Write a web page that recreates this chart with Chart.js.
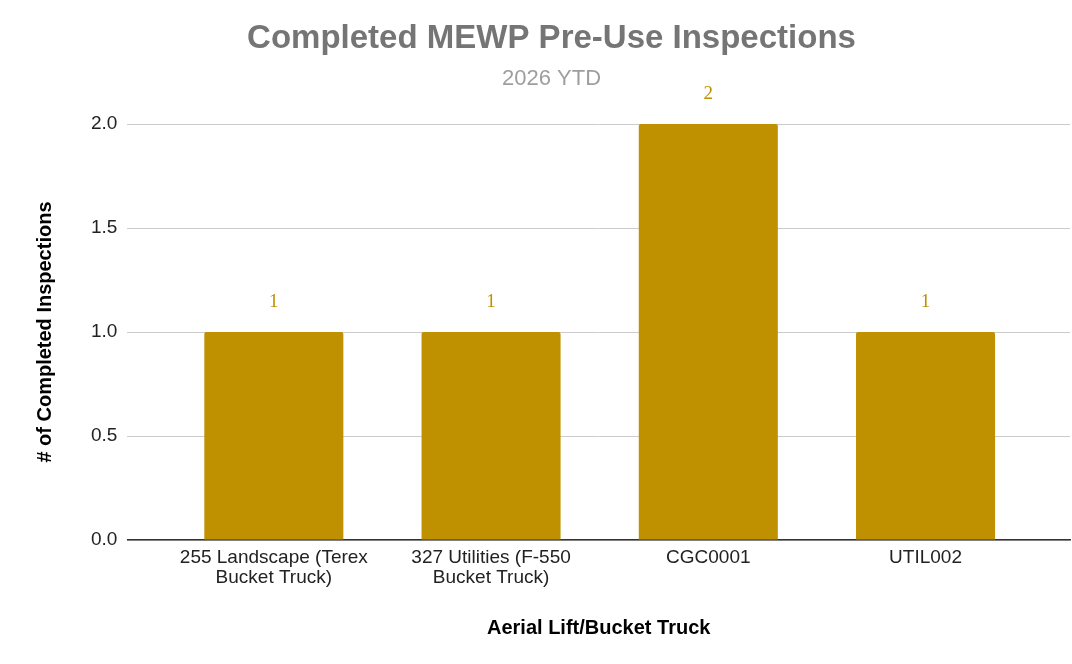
<!DOCTYPE html>
<html>
<head>
<meta charset="utf-8">
<script src="https://cdn.jsdelivr.net/npm/chart.js@4/dist/chart.umd.min.js"></script>
<style>
html,body{margin:0;padding:0;background:#fff;}
#wrap{width:1072px;height:664px;position:relative;}
</style>
</head>
<body>
<div id="wrap"><canvas id="c"></canvas></div>
<script>
const categories = [
  ["255 Landscape (Terex", "Bucket Truck)"],
  ["327 Utilities (F-550", "Bucket Truck)"],
  ["CGC0001"],
  ["UTIL002"]
];
const inspections = [1, 1, 2, 1];
const yTicks = [0, 0.5, 1, 1.5, 2];

const barColor = '#bf9000';
const FONT = '"Liberation Sans", Arial, sans-serif';

const labelPlugin = {
  id: 'valueLabels',
  afterDatasetsDraw(chart) {
    const ctx = chart.ctx;
    const meta = chart.getDatasetMeta(0);
    ctx.save();
    ctx.font = '19px "Liberation Serif", "Times New Roman", serif';
    ctx.fillStyle = '#bf9000';
    ctx.textAlign = 'center';
    ctx.textBaseline = 'middle';
    meta.data.forEach((el, i) => {
      ctx.fillText(String(inspections[i]), el.x, el.y - 30);
    });
    ctx.restore();
  }
};

new Chart(document.getElementById('c'), {
  type: 'bar',
  data: {
    datasets: [{
      data: inspections.map((v, i) => ({x: i, y: v})),
      backgroundColor: barColor,
      borderRadius: 2,
      borderSkipped: 'bottom',
      barPercentage: 0.64,
      categoryPercentage: 1.0
    }]
  },
  options: {
    responsive: true,
    maintainAspectRatio: false,
    animation: false,
    layout: {padding: {left: 33, right: 2, top: 0, bottom: 24}},
    plugins: {
      legend: {display: false},
      tooltip: {enabled: false},
      title: {
        display: true,
        text: 'Completed MEWP Pre-Use Inspections',
        color: '#757575',
        font: {family: FONT, size: 33, weight: 'bold'},
        padding: {top: 19, bottom: 4}
      },
      subtitle: {
        display: true,
        text: '2026 YTD',
        color: '#9e9e9e',
        font: {family: FONT, size: 22},
        padding: {top: 3, bottom: 32}
      }
    },
    scales: {
      x: {
        type: 'linear',
        min: -0.674,
        max: 3.665,
        offset: false,
        afterBuildTicks(scale) {
          scale.ticks = categories.map((c, i) => ({value: i}));
        },
        ticks: {
          autoSkip: false,
          maxRotation: 0,
          color: '#222',
          font: {family: FONT, size: 19, lineHeight: 1.05},
          padding: 8,
          callback: (v) => categories[v] || ''
        },
        grid: {display: false, drawTicks: false},
        border: {display: true, color: '#333', width: 1.5},
        title: {
          display: true,
          text: 'Aerial Lift/Bucket Truck',
          color: '#000',
          font: {family: FONT, size: 20, weight: 'bold'},
          padding: {top: 20, bottom: 0}
        }
      },
      y: {
        min: 0,
        max: 2,
        afterBuildTicks(scale) {
          scale.ticks = yTicks.map(v => ({value: v}));
        },
        ticks: {
          color: '#222',
          font: {family: FONT, size: 19},
          padding: 10,
          callback: (v) => Number(v).toFixed(1)
        },
        grid: {color: '#cccccc', lineWidth: 1, drawTicks: false},
        border: {display: false},
        title: {
          display: true,
          text: '# of Completed Inspections',
          color: '#000',
          font: {family: FONT, size: 20, weight: 'bold'},
          padding: {top: 0, bottom: 24}
        }
      }
    }
  },
  plugins: [labelPlugin]
});
</script>
</body>
</html>
